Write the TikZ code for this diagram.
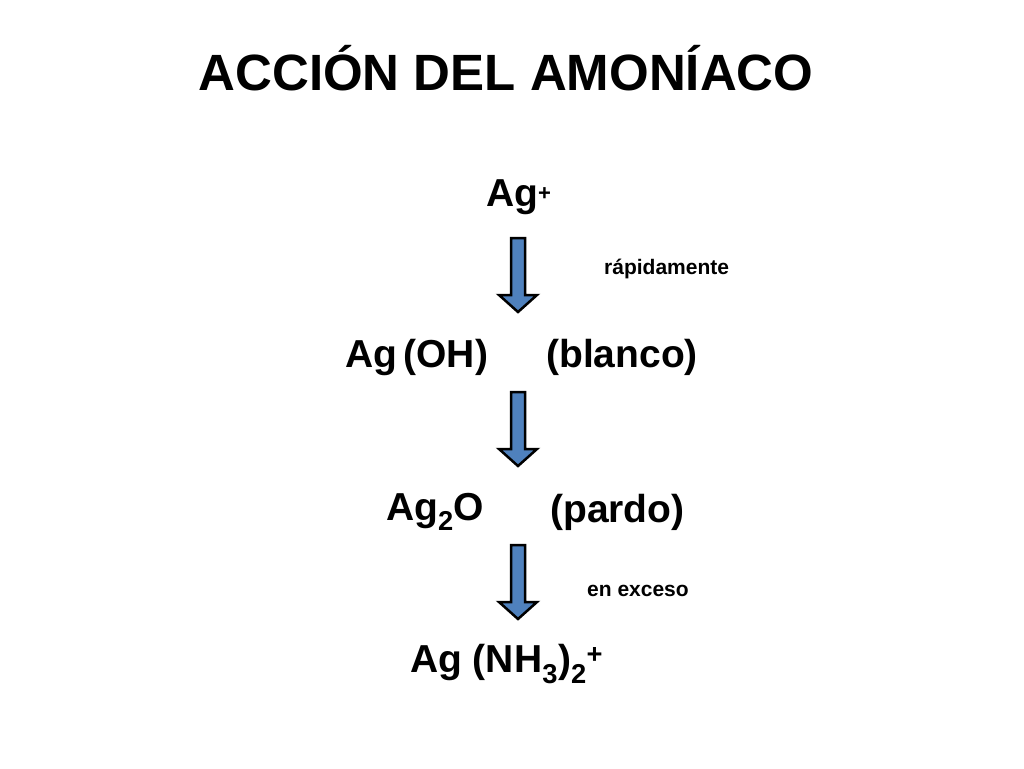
\documentclass[tikz,border=0pt]{standalone}
\usepackage{fontspec}
\setmainfont{Liberation Sans}
\begin{document}
\begin{tikzpicture}[x=1pt,y=-1pt,
  txt/.style={font=\fontsize{39}{42}\selectfont\bfseries,inner sep=0pt},
  sm/.style={font=\fontsize{21}{24}\selectfont\bfseries,inner sep=0pt},
  barrow/.style={draw=black,line width=2.5pt,fill={rgb,255:red,79;green,129;blue,189}}]
\useasboundingbox (0,0) rectangle (1024,768);
\node[font=\fontsize{51}{56}\selectfont\bfseries,inner sep=0pt] (title) at (506,68) {ACCIÓN DEL AMONÍACO};
\node[txt,anchor=west] (ag) at (486,197) {Ag{\fontsize{22}{24}\selectfont\raisebox{0.5ex}{+}}};
\node[sm,anchor=west] (r) at (604,269) {rápidamente};
\node[txt,anchor=west] (agoh) at (345,357) {Ag\,(OH)};
\node[txt,anchor=west] (bl) at (546,357) {(blanco)};
\node[txt,anchor=west] (ag2o) at (386,512) {Ag$_{\mathbf 2}$O};
\node[txt,anchor=west] (pa) at (550,512) {(pardo)};
\node[sm,anchor=west] (ex) at (587,591) {en exceso};
\node[txt,anchor=west] (agnh) at (410,664) {Ag (NH$_{\mathbf 3}$)$_{\mathbf 2}$\textsuperscript{+}};
\foreach \n/\t in {a1/238,a2/392,a3/545}{
  \draw[barrow] (511,\t) -- (525,\t) -- (525,\t+57) -- (537,\t+57) -- (518,\t+74) -- (499,\t+57) -- (511,\t+57) -- cycle;
}
\end{tikzpicture}
\end{document}
